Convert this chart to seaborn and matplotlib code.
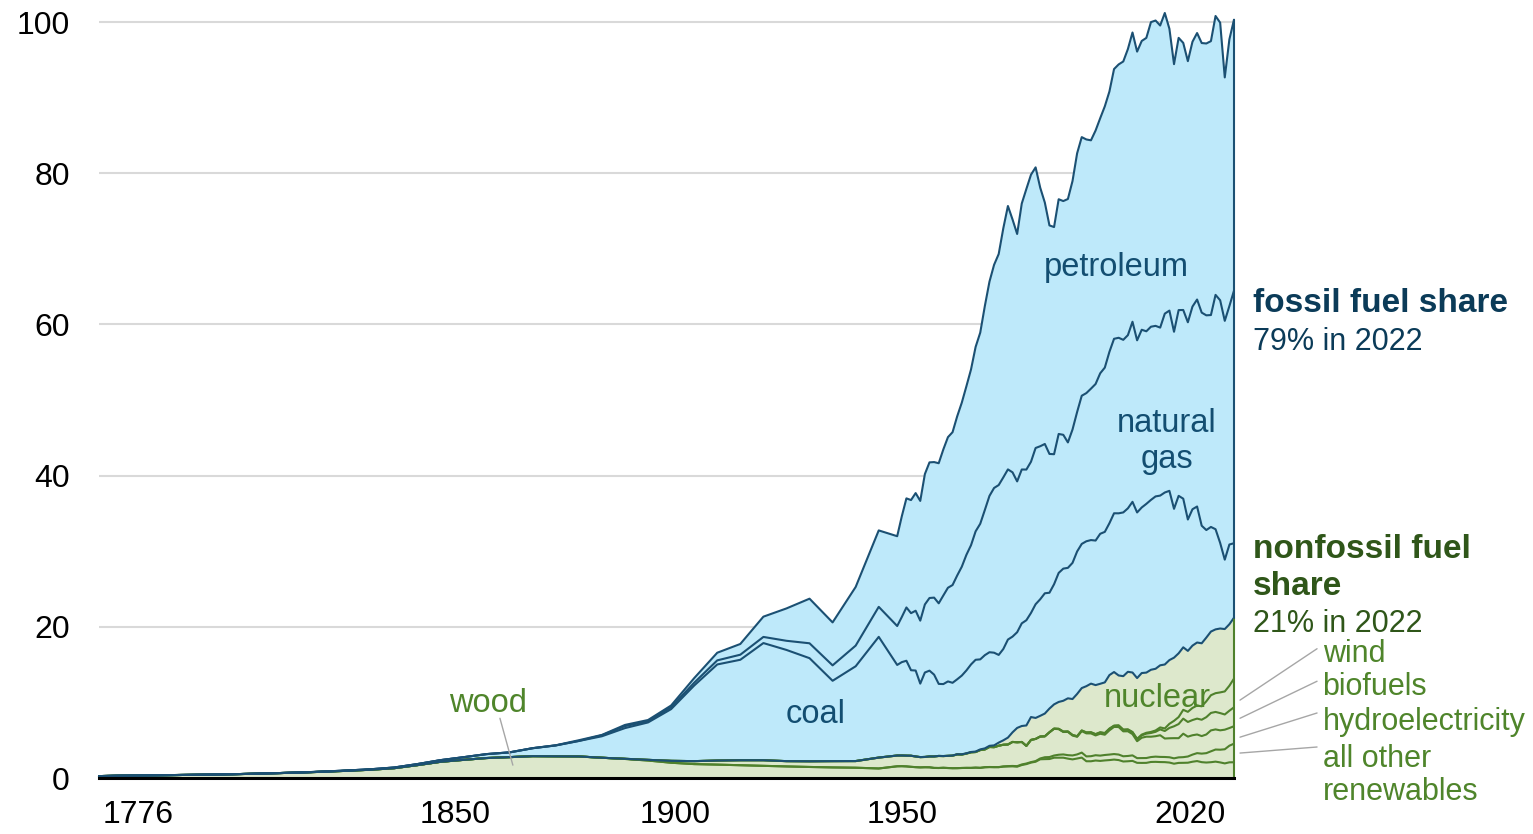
import numpy as np
import matplotlib
matplotlib.use("Agg")
import matplotlib.pyplot as plt
import matplotlib.transforms as mtransforms
import seaborn as sns

# ---------------- data (quadrillion Btu) ----------------
years_early = [1776] + list(range(1780, 1950, 5))      # 1776, 1780 ... 1945
years_annual = list(range(1949, 2023))                 # 1949 ... 2022

wood_early = [0.25, 0.30, 0.33, 0.37, 0.41, 0.45, 0.50, 0.57, 0.65, 0.73,
              0.84, 0.96, 1.10, 1.30, 1.70, 2.14, 2.40, 2.64, 2.76, 2.89,
              2.87, 2.85, 2.68, 2.52, 2.31, 2.02, 1.84, 1.77, 1.69, 1.61,
              1.53, 1.46, 1.40, 1.36, 1.26]
coal_early = [0, 0, 0, 0, 0, 0, 0, 0, 0, 0.01,
              0.02, 0.04, 0.06, 0.09, 0.14, 0.22, 0.35, 0.52, 0.63, 1.05,
              1.44, 2.05, 2.84, 4.06, 4.95, 6.84, 10.00, 12.71, 13.29, 15.50,
              14.71, 13.64, 10.63, 12.54, 15.97]
gas_early = [0] * 22 + [0.14, 0.26, 0.15, 0.25, 0.37, 0.54, 0.67, 0.81,
                        1.21, 1.97, 2.04, 2.73, 3.97]
petroleum_early = [0] * 17 + [0.003, 0.005, 0.011, 0.02, 0.096, 0.04, 0.16, 0.17,
                              0.23, 0.61, 1.01, 1.42, 2.68, 4.28, 5.90, 5.68,
                              7.76, 10.11]
hydro_early = [0] * 23 + [0.02, 0.09, 0.25, 0.39, 0.54, 0.66, 0.74, 0.70,
                          0.75, 0.83, 0.88, 1.44]

wood_annual = [1.549, 1.562, 1.535, 1.479, 1.434, 1.404, 1.424, 1.416, 1.334, 1.323,
               1.353, 1.320, 1.295, 1.300, 1.323, 1.337, 1.335, 1.369, 1.340, 1.419,
               1.440, 1.429, 1.430, 1.503, 1.527, 1.539, 1.497, 1.711, 1.837, 2.036,
               2.152, 2.476, 2.496, 2.510, 2.684, 2.686, 2.687, 2.562, 2.463, 2.577,
               2.700, 2.216, 2.214, 2.313, 2.260, 2.324, 2.370, 2.437, 2.371, 2.184,
               2.214, 2.262, 2.006, 1.995, 2.002, 2.121, 2.136, 2.109, 2.098, 2.044,
               1.891, 1.998, 2.007, 2.022, 2.153, 2.239, 2.095, 2.046, 2.090, 2.165,
               2.063, 1.931, 2.074, 2.080]
other_annual = [0] * 11 + [
    0.001, 0.002, 0.002, 0.004, 0.005, 0.004, 0.004, 0.007, 0.009, 0.015,
    0.013, 0.013, 0.032, 0.044, 0.055, 0.071, 0.080, 0.079, 0.066, 0.085,
    0.11, 0.25, 0.26, 0.29, 0.39, 0.43, 0.46, 0.52, 0.54, 0.66,
    0.64, 0.67, 0.70, 0.70, 0.72, 0.73, 0.73, 0.73, 0.69, 0.70,
    0.73, 0.62, 0.64, 0.64, 0.65, 0.69, 0.68, 0.68, 0.70, 0.71,
    0.73, 0.75, 0.82, 0.94, 1.05, 1.13, 1.24, 1.44, 1.60, 1.68,
    1.87, 2.20, 2.46]
hydro_annual = [1.425, 1.415, 1.424, 1.466, 1.413, 1.360, 1.360, 1.435, 1.516, 1.592,
                1.548, 1.608, 1.656, 1.816, 1.771, 1.886, 2.059, 2.062, 2.347, 2.349,
                2.648, 2.634, 2.824, 2.864, 2.861, 3.177, 3.155, 2.976, 2.333, 2.937,
                2.931, 2.900, 2.758, 3.266, 3.527, 3.386, 2.970, 3.071, 2.635, 2.334,
                2.837, 3.046, 3.016, 2.617, 2.892, 2.683, 3.205, 3.590, 3.640, 3.297,
                3.268, 2.811, 2.242, 2.689, 2.825, 2.690, 2.703, 2.869, 2.446, 2.511,
                2.669, 2.539, 3.103, 2.629, 2.562, 2.467, 2.321, 2.472, 2.767, 2.663,
                2.563, 2.591, 2.335, 2.311]
biofuels_annual = [0] * 32 + [
    0.013, 0.019, 0.035, 0.043, 0.052, 0.064, 0.070, 0.071, 0.074,
    0.11, 0.13, 0.15, 0.17, 0.19, 0.20, 0.14, 0.19, 0.20, 0.21,
    0.23, 0.25, 0.31, 0.40, 0.49, 0.58, 0.77, 0.99, 1.37, 1.57,
    1.87, 1.99, 1.94, 2.01, 2.10, 2.16, 2.29, 2.31, 2.31, 2.28,
    2.01, 2.29, 2.50]
wind_annual = [0] * 34 + [
    0.0, 0.0, 0.001, 0.002, 0.003, 0.009, 0.022,
    0.029, 0.031, 0.030, 0.031, 0.036, 0.033, 0.033, 0.034, 0.031, 0.046,
    0.057, 0.070, 0.105, 0.115, 0.142, 0.178, 0.264, 0.341, 0.546, 0.721,
    0.923, 1.168, 1.340, 1.601, 1.728, 1.777, 2.096, 2.343, 2.482, 2.736,
    3.049, 3.306, 3.800]
nuclear_annual = [0] * 8 + [
    0.0, 0.002, 0.002, 0.006, 0.020, 0.026, 0.038, 0.040, 0.043, 0.064,
    0.088, 0.142, 0.154, 0.239, 0.413, 0.584, 0.910, 1.272, 1.900, 2.111,
    2.702, 3.024, 2.776, 2.739, 3.008, 3.131, 3.203, 3.553, 4.076, 4.380,
    4.754, 5.587, 5.602, 6.104, 6.422, 6.479, 6.410, 6.694, 7.075, 7.087,
    6.597, 7.068, 7.610, 7.862, 8.029, 8.145, 7.959, 8.222, 8.161, 8.215,
    8.459, 8.426, 8.356, 8.434, 8.269, 8.062, 8.244, 8.338, 8.337, 8.427,
    8.419, 8.438, 8.452, 8.251, 8.131, 8.054]
coal_annual = [11.98, 12.35, 12.55, 11.31, 11.37, 9.72, 11.17, 11.35, 10.82, 9.53,
               9.52, 9.84, 9.62, 9.91, 10.41, 10.96, 11.58, 12.14, 11.91, 12.33,
               12.38, 12.26, 11.60, 12.08, 12.97, 12.66, 12.66, 13.58, 13.92, 13.77,
               15.04, 15.42, 15.91, 15.32, 15.89, 17.07, 17.48, 17.26, 18.01, 18.85,
               19.07, 19.17, 18.99, 19.12, 19.84, 19.91, 20.09, 21.00, 21.45, 21.66,
               21.62, 22.58, 21.91, 21.90, 22.32, 22.47, 22.80, 22.45, 22.75, 22.39,
               19.69, 20.83, 19.66, 17.38, 18.04, 17.99, 15.55, 14.23, 13.84, 13.25,
               11.32, 9.18, 10.55, 9.85]
gas_annual = [5.15, 5.97, 7.05, 7.55, 7.91, 8.33, 9.00, 9.61, 10.19, 10.66,
              11.72, 12.39, 12.93, 13.73, 14.40, 15.29, 15.77, 16.99, 17.94, 19.21,
              20.68, 21.79, 22.47, 22.70, 22.51, 21.73, 19.95, 20.35, 19.93, 20.00,
              20.67, 20.24, 19.75, 18.36, 17.20, 18.38, 17.70, 16.59, 17.64, 18.45,
              19.60, 19.60, 20.03, 20.71, 21.23, 21.73, 22.67, 23.08, 23.22, 22.83,
              22.91, 23.82, 22.77, 23.51, 22.83, 22.91, 22.56, 22.22, 23.66, 23.84,
              23.42, 24.57, 24.96, 26.09, 26.81, 27.38, 28.19, 28.40, 28.03, 31.00,
              32.10, 31.59, 31.54, 33.41]
petroleum_annual = [11.88, 13.32, 14.43, 14.96, 15.56, 15.84, 17.25, 17.94, 17.93, 18.53,
                    19.32, 19.92, 20.22, 21.05, 21.70, 22.30, 23.25, 24.40, 25.28, 26.98,
                    28.34, 29.52, 30.56, 32.95, 34.84, 33.45, 32.73, 35.18, 37.12, 37.97,
                    37.12, 34.20, 31.93, 30.23, 30.05, 31.05, 30.92, 32.20, 32.87, 34.22,
                    34.21, 33.55, 32.85, 33.53, 33.74, 34.56, 34.44, 35.68, 36.16, 36.82,
                    37.84, 38.26, 38.19, 38.20, 38.81, 40.29, 40.39, 39.96, 39.77, 37.28,
                    35.40, 36.01, 35.33, 34.54, 35.03, 35.25, 35.66, 35.96, 36.23, 36.89,
                    36.72, 32.20, 35.28, 35.84]

y_ticks = [0, 20, 40, 60, 80, 100]
x_ticks = [1776, 1850, 1900, 1950, 2020]

# ---------------- assemble ----------------
n_e = len(years_early)
years = np.array(years_early + years_annual, dtype=float)
wood = np.array(wood_early + wood_annual)
other = np.array([0] * n_e + other_annual)
hydro = np.array(hydro_early + hydro_annual)
biofuels = np.array([0] * n_e + biofuels_annual)
wind = np.array([0] * n_e + wind_annual)
nuclear = np.array([0] * n_e + nuclear_annual)
coal = np.array(coal_early + coal_annual)
gas = np.array(gas_early + gas_annual)
petroleum = np.array(petroleum_early + petroleum_annual)

c_wood = wood
c_other = c_wood + other
c_hydro = c_other + hydro
c_bio = c_hydro + biofuels
c_wind = c_bio + wind
c_nuc = c_wind + nuclear
c_coal = c_nuc + coal
c_gas = c_coal + gas
c_pet = c_gas + petroleum

# ---------------- style ----------------
sns.set_theme(style="white")
plt.rcParams["font.family"] = ["Liberation Sans", "DejaVu Sans"]

BLUE_FILL = "#BEE9FA"
BLUE_LINE = "#1B5073"
BLUE_TEXT = "#134E71"
NAVY = "#0B3B58"
GREEN_FILL = "#DDE8CC"
GREEN_LINE = "#4F812C"
GREEN_TEXT = "#4F852B"
DARK_GREEN = "#2F5619"

fig = plt.figure(figsize=(15.33, 8.34), dpi=100)
ax = fig.add_axes([99 / 1533, 56 / 834, 1135 / 1533, 771.1 / 834])

ax.fill_between(years, 0, c_nuc, color=GREEN_FILL, lw=0, zorder=1)
ax.fill_between(years, c_nuc, c_pet, color=BLUE_FILL, lw=0, zorder=1)

for arr in [c_wood, c_other, c_hydro, c_bio, c_wind]:
    sns.lineplot(x=years, y=arr, color=GREEN_LINE, lw=1.5, ax=ax,
                 estimator=None, sort=False, legend=False, zorder=3, clip_on=False)
for arr in [c_nuc, c_coal, c_gas, c_pet]:
    sns.lineplot(x=years, y=arr, color=BLUE_LINE, lw=1.5, ax=ax,
                 estimator=None, sort=False, legend=False, zorder=4, clip_on=False)

# right edge of the stack
ax.plot([years[-1]] * 2, [0, c_nuc[-1]], color=GREEN_LINE, lw=1.5, zorder=4, clip_on=False)
ax.plot([years[-1]] * 2, [c_nuc[-1], c_pet[-1]], color=BLUE_LINE, lw=1.5, zorder=4, clip_on=False)

ax.set_xlim(1776, 2022)
ax.set_ylim(0, 102)
ax.set_xlabel("")
ax.set_ylabel("")
ax.set_yticks(y_ticks)
ax.set_xticks(x_ticks)
ax.set_xticklabels([str(t) for t in x_ticks])
ax.yaxis.grid(True, color="#D9D9D9", lw=1.5)
ax.xaxis.grid(False)
ax.set_axisbelow(True)
ax.tick_params(axis="y", length=0, pad=21, labelsize=23, labelcolor="black")
ax.tick_params(axis="x", length=0, pad=16, labelsize=23, labelcolor="black")
for s in ["top", "right", "left"]:
    ax.spines[s].set_visible(False)
ax.spines["bottom"].set_color("black")
ax.spines["bottom"].set_linewidth(2.2)
ax.spines["bottom"].set_zorder(6)

# shift edge tick labels like the original
x_offsets_px = [39, 15, 4, 0, -35]
for lab, dx in zip(ax.get_xticklabels(), x_offsets_px):
    lab.set_transform(lab.get_transform() +
                      mtransforms.ScaledTranslation(dx / 100, 0, fig.dpi_scale_trans))

# ---------------- in-chart labels ----------------
ax.text(1996.6, 66.4, "petroleum", color=BLUE_TEXT, fontsize=23.5, ha="center", va="baseline", zorder=7)
ax.text(2007.5, 45.8, "natural", color=BLUE_TEXT, fontsize=23.5, ha="center", va="baseline", zorder=7)
ax.text(2007.5, 41.0, "gas", color=BLUE_TEXT, fontsize=23.5, ha="center", va="baseline", zorder=7)
ax.text(1931.2, 7.3, "coal", color=BLUE_TEXT, fontsize=23.5, ha="center", va="baseline", zorder=7)
ax.text(2005.3, 9.4, "nuclear", color=GREEN_TEXT, fontsize=23.5, ha="center", va="baseline", zorder=7)
ax.text(1860.3, 8.7, "wood", color=GREEN_TEXT, fontsize=23.5, ha="center", va="baseline", zorder=7)
ax.plot([1862.9, 1865.7], [7.9, 1.7], color="#A6A6A6", lw=1, zorder=7)

# ---------------- right-side annotations ----------------
xr = 2026.1
ax.text(xr, 61.6, "fossil fuel share", color=NAVY, fontsize=24, fontweight="bold", va="baseline")
ax.text(xr, 56.6, "79% in 2022", color=NAVY, fontsize=22, va="baseline")
ax.text(xr, 29.1, "nonfossil fuel", color=DARK_GREEN, fontsize=24, fontweight="bold", va="baseline")
ax.text(xr, 24.2, "share", color=DARK_GREEN, fontsize=24, fontweight="bold", va="baseline")
ax.text(xr, 19.3, "21% in 2022", color=DARK_GREEN, fontsize=22, va="baseline")

xg = 2041.2
for txt, yb in [("wind", 15.4), ("biofuels", 11.0), ("hydroelectricity", 6.35),
                ("all other", 1.5), ("renewables", -2.9)]:
    ax.text(xg, yb, txt, color=GREEN_TEXT, fontsize=22, va="baseline")

for (y0, y1) in [(17.1, 10.3), (12.8, 7.9), (8.6, 5.4), (4.1, 3.3)]:
    ax.plot([2040.0, 2023.3], [y0, y1], color="#A6A6A6", lw=1, clip_on=False, zorder=7)

fig.savefig("out.png", dpi=100)
